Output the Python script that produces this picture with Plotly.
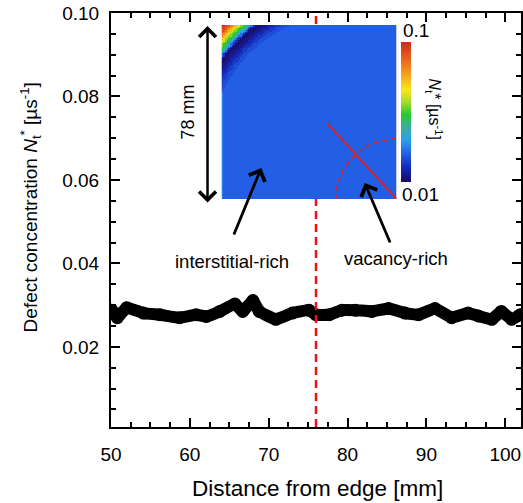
import numpy as np
import plotly.graph_objects as go

# ---------------- data ----------------
distance_mm = [50.1, 50.8, 52.0, 54.1, 56.2, 58.7, 60.8, 62.1, 63.8, 65.7, 66.7, 68.0,
               68.8, 70.9, 73.0, 75.1, 76.0, 77.7, 79.3, 81.0, 83.1, 85.2, 87.3, 89.0,
               91.1, 93.2, 95.3, 96.6, 98.3, 99.5, 100.8, 101.9]
defect_conc = [0.0288, 0.0270, 0.0294, 0.0281, 0.0277, 0.0270, 0.0277, 0.0273, 0.0285, 0.0303,
               0.0285, 0.0311, 0.0285, 0.0266, 0.0281, 0.0288, 0.0277, 0.0277, 0.0288, 0.0288,
               0.0285, 0.0292, 0.0281, 0.0277, 0.0292, 0.0270, 0.0281, 0.0274, 0.0266, 0.0285,
               0.0266, 0.0277]
boundary_x = 76.0

x_ticks = [50, 60, 70, 80, 90, 100]
y_ticks = [0.02, 0.04, 0.06, 0.08, 0.10]
y_ticktext = ["0.02", "0.04", "0.06", "0.08", "0.10"]

# inset map: contours are arcs around a point inside the ingot; profile is given
# as depth (mm) measured from the top-left corner versus N_t* value
sample_size_mm = 78
arc_center_mm = 60
ring_depth_mm = [1.4, 2.8, 3.8, 4.8, 5.75, 6.7, 7.7, 8.3, 8.9, 9.5, 10.1, 11.8, 13.3,
                 14.8, 16.3, 18.0]
ring_value = [0.100, 0.093, 0.084, 0.075, 0.067, 0.059, 0.052, 0.045, 0.038, 0.030, 0.020,
              0.012, 0.014, 0.018, 0.022, 0.025]
bulk_value = 0.028
edge_value = 0.033
cbar_min, cbar_max = 0.01, 0.1

# ---------------- build inset grid ----------------
n = 104
cell = sample_size_mm / n
centers = (np.arange(n) + 0.5) * cell
xx, yy = np.meshgrid(centers, centers)          # yy measured from the top
dist = np.hypot(xx - arc_center_mm, yy - arc_center_mm)
depth = arc_center_mm * np.sqrt(2) - dist
idx = np.searchsorted(ring_depth_mm, depth)
lut = np.array(ring_value + [bulk_value])
z = lut[idx]
z[:, 0] = np.where(idx[:, 0] >= len(ring_value), edge_value, z[:, 0])
z = z[::-1]                                       # flip so row 0 is the bottom

jet_like = [
    [0.00, "rgb(25,10,95)"],
    [0.10, "rgb(20,40,185)"],
    [0.20, "rgb(35,95,228)"],
    [0.30, "rgb(40,160,235)"],
    [0.40, "rgb(60,175,150)"],
    [0.48, "rgb(40,200,45)"],
    [0.57, "rgb(165,220,40)"],
    [0.66, "rgb(250,230,25)"],
    [0.80, "rgb(245,140,30)"],
    [1.00, "rgb(210,40,30)"],
]

FONT = "Liberation Sans, Arial, sans-serif"
W, H = 523, 503
L, R, T, B = 111, 0, 13, 76
PW, PH = W - L - R, H - T - B

def px(xp):
    return (xp - L) / PW

def py(yp):
    return (H - B - yp) / PH

fig = go.Figure()

fig.add_trace(go.Scatter(
    x=distance_mm, y=defect_conc, mode="lines+markers",
    line=dict(color="black", width=12, shape="spline", smoothing=0.3),
    marker=dict(color="black", size=13),
    showlegend=False, hoverinfo="skip"))

fig.add_trace(go.Scatter(
    x=[boundary_x, boundary_x], y=[0.0008, 0.1], mode="lines",
    line=dict(color="rgb(235,20,20)", width=2.5, dash="8px,5px"),
    showlegend=False, hoverinfo="skip"))

fig.add_trace(go.Heatmap(
    z=z, x0=cell / 2, dx=cell, y0=cell / 2, dy=cell,
    xaxis="x2", yaxis="y2",
    colorscale=jet_like, zmin=cbar_min, zmax=cbar_max,
    colorbar=dict(x=px(402), xanchor="left", xpad=0,
                  y=py(112), yanchor="middle", ypad=0,
                  len=140, lenmode="pixels", thickness=10,
                  thicknessmode="pixels", outlinewidth=0,
                  showticklabels=False, ticks=""),
    hoverinfo="skip"))

axis_common = dict(showline=True, linecolor="black", linewidth=2, mirror="ticks",
                   ticks="inside", ticklen=9, tickwidth=2, tickcolor="black",
                   showgrid=False, zeroline=False,
                   tickfont=dict(family=FONT, size=19, color="black"))

fig.update_layout(
    width=W, height=H,
    margin=dict(l=L, r=R, t=T, b=B, pad=0),
    paper_bgcolor="white", plot_bgcolor="rgba(0,0,0,0)",
    font=dict(family=FONT, color="black"),
    xaxis=dict(range=[50, 102.0], tickvals=x_ticks, ticklabelstandoff=9,
               minor=dict(dtick=2.5, tick0=50, ticks="inside", ticklen=5,
                          tickwidth=1.5, tickcolor="black"),
               **axis_common),
    yaxis=dict(range=[0.0008, 0.1], tickvals=y_ticks, ticktext=y_ticktext,
               ticklabelstandoff=6,
               minor=dict(dtick=0.005, tick0=0, ticks="inside", ticklen=5,
                          tickwidth=1.5, tickcolor="black"),
               **axis_common),
    xaxis2=dict(domain=[px(222), px(398)], range=[0, sample_size_mm], anchor="y2",
                visible=False, fixedrange=True),
    yaxis2=dict(domain=[py(199), py(25)], range=[0, sample_size_mm], anchor="x2",
                visible=False, fixedrange=True),
)

# red markings on the inset
fig.add_shape(type="line", xref="x2", yref="y2", x0=47, y0=34, x1=78, y1=0,
              line=dict(color="rgb(225,30,30)", width=1.8), layer="above")
fig.add_shape(type="circle", xref="x2", yref="y2", x0=78 - 27, x1=78 + 27,
              y0=-27, y1=27, line=dict(color="rgb(225,30,30)", width=1.5, dash="5px,4px"),
              layer="above")


def label(text, xp, yp, size, angle=0, xanchor="center"):
    return dict(text=text, x=px(xp), y=py(yp), xref="paper", yref="paper",
                xanchor=xanchor, yanchor="middle", showarrow=False, textangle=angle,
                font=dict(size=size, family=FONT, color="black"))


def arrow(hx, hy, tx, ty, both=False, width=2.8, size=1.1):
    return dict(text="", x=px(hx), y=py(hy), xref="paper", yref="paper",
                ax=tx - hx, ay=ty - hy, showarrow=True, arrowhead=4,
                arrowside="end+start" if both else "end",
                arrowsize=size, arrowwidth=width, arrowcolor="black")


ann = [
    label("Distance from edge [mm]", 319, 488, 22.5),
    label("Defect concentration <i>N</i><sub>t</sub><sup>*</sup> [µs<sup>-1</sup>]",
          30, 207, 19, angle=-90),
    label("0.1", 402, 31, 19, xanchor="left"),
    label("0.01", 401, 195, 19, xanchor="left"),
    label("<i>N</i><sub>t</sub>* [µs<sup>-1</sup>]", 436, 109, 16, angle=90),
    arrow(208, 26, 208, 204, both=True, width=2.5, size=1.3),
    label("78 mm", 188, 112, 18, angle=-90),
    label("interstitial-rich", 233, 261, 18.5),
    arrow(262, 168, 234, 236, size=1.2),
    label("vacancy-rich", 397, 258, 18.5),
    arrow(366, 183, 392, 244, size=1.2),
]

fig.update_layout(annotations=ann)
fig.write_html("out.html")
